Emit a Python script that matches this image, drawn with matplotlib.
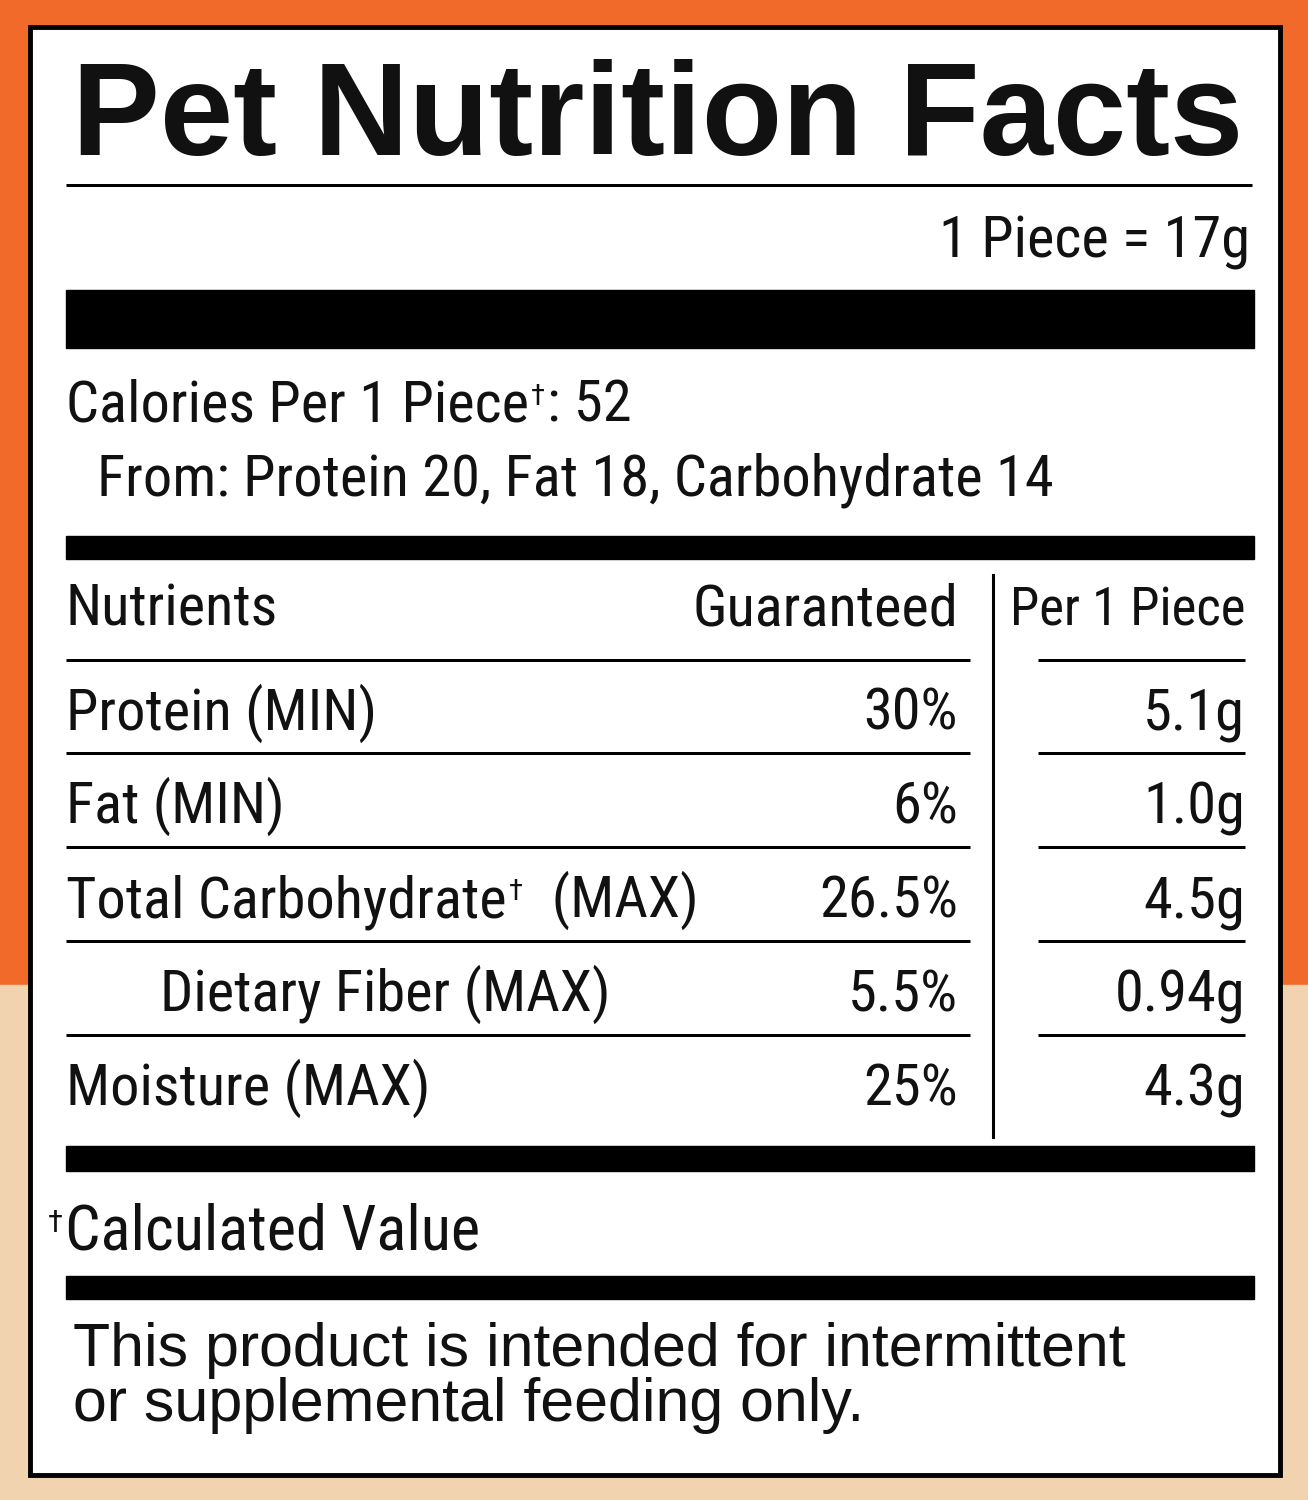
import matplotlib
matplotlib.use("Agg")
import matplotlib.pyplot as plt
from matplotlib.patches import Rectangle
from matplotlib import font_manager as fm

names = {f.name for f in fm.fontManager.ttflist}
NARROW = ['Liberation Sans Narrow'] if 'Liberation Sans Narrow' in names else ['Roboto Condensed', 'Roboto']
NARROW = NARROW + ['DejaVu Sans']

title = "Pet Nutrition Facts"
serving = "1 Piece = 17g"
calories = ["Calories Per 1 Piece", "\u2020", ": 52"]
calories_from = "From: Protein 20, Fat 18, Carbohydrate 14"
headers = ["Nutrients", "Guaranteed", "Per 1 Piece"]
nutrients = ["Protein (MIN)", "Fat (MIN)", "Total Carbohydrate\u2020  (MAX)", "Dietary Fiber (MAX)", "Moisture (MAX)"]
indent = [False, False, False, True, False]
guaranteed = ["30%", "6%", "26.5%", "5.5%", "25%"]
per_piece = ["5.1g", "1.0g", "4.5g", "0.94g", "4.3g"]
footnote = ["\u2020", "Calculated Value"]
disclaimer = ["This product is intended for intermittent", "or supplemental feeding only."]

W, H = 1308, 1500
fig = plt.figure(figsize=(W/100, H/100), dpi=100)
ax = fig.add_axes([0, 0, 1, 1])
ax.set_xlim(0, W); ax.set_ylim(H, 0); ax.axis('off')
ax.add_patch(Rectangle((0, 0), W, 985, color='#F26A29', zorder=0))
ax.add_patch(Rectangle((0, 985), W, H-985, color='#F1D4AF', zorder=0))
ax.add_patch(Rectangle((30, 27), 1250, 1448, facecolor='white', edgecolor='black', lw=3.5, zorder=1))

renderer = fig.canvas.get_renderer()
def width(t):
    return t.get_window_extent(renderer).width
def fit(t, w):
    t.set_fontsize(t.get_fontsize()*w/width(t))

def bar(y0, y1, x0=66, x1=1254):
    ax.add_patch(Rectangle((x0, y0), x1-x0, y1-y0, color='black', zorder=2))

def hline(y, x0, x1, lw=3):
    ax.plot([x0, x1], [y, y], color='black', lw=lw*0.72, solid_capstyle='butt', zorder=2)

NS = 42
def txt(x, y, s, ha='left', size=NS, family=NARROW, **kw):
    return ax.text(x, y, s, ha=ha, va='baseline', fontsize=size, family=family, color='#111111', zorder=3, **kw)

def dagger_text(x, y, parts, size=NS, family=NARROW):
    for i, p in enumerate(parts):
        if p == "\u2020":
            t = txt(x + 2, y - 17, p, size=size*0.5, family=family)
            x += width(t) + 4
        else:
            t = txt(x, y, p, size=size, family=family)
            x += width(t)

t = ax.text(72, 155, title, ha='left', va='baseline', fontsize=87, family=['Liberation Sans', 'DejaVu Sans'], fontweight='heavy', color='#111111', zorder=3)
fit(t, 1172)
hline(185, 66, 1252)
txt(1250, 257, serving, ha='right')
bar(290, 348)
dagger_text(66, 422, calories)
txt(97, 496, calories_from)
bar(536, 559)
txt(66, 625, headers[0]); txt(958, 625, headers[1], ha='right')
h3 = txt(1245, 625, headers[2], ha='right')
fit(h3, 236)
ax.plot([993, 993], [575, 1137], color='black', lw=2.2, zorder=2)
row_y = [730, 823, 917, 1011, 1105]
for i, (n, g, p) in enumerate(zip(nutrients, guaranteed, per_piece)):
    y = row_y[i]
    hline(y - 70, 66, 970); hline(y - 70, 1038, 1245)
    if "\u2020" in n:
        a, b = n.split("\u2020")
        dagger_text(66, y, [a, "\u2020", b])
    else:
        txt(160 if indent[i] else 66, y, n)
    txt(958, y, g, ha='right')
    txt(1245, y, p, ha='right')
bar(1146, 1171)
dagger_text(46, 1249, footnote, size=45)
bar(1276, 1299)
REG = ['Liberation Sans', 'DejaVu Sans']
d1 = txt(73, 1366, disclaimer[0], family=REG)
fit(d1, 1054)
txt(73, 1421, disclaimer[1], family=REG, size=d1.get_fontsize())
fig.savefig("out.png", dpi=100)
